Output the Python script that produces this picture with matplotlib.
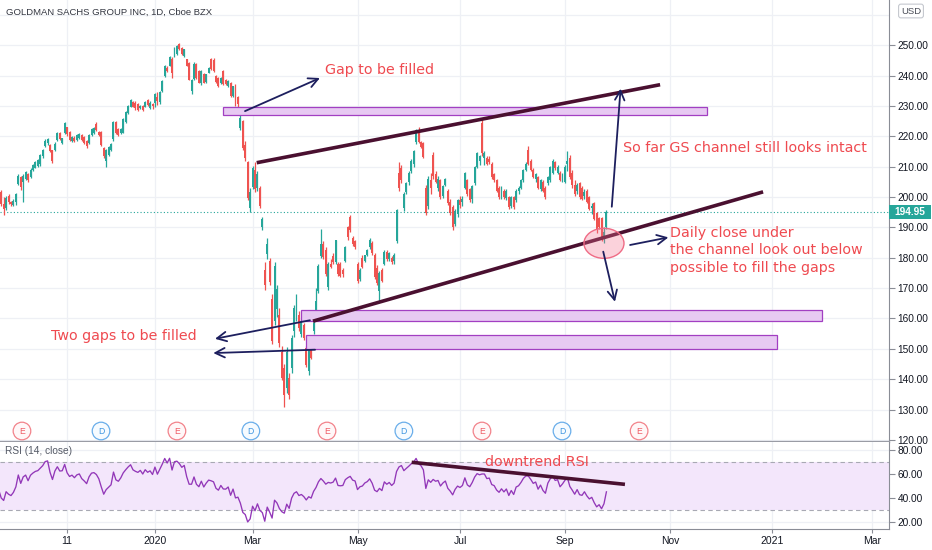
import numpy as np
import matplotlib
matplotlib.use("Agg")
import matplotlib.pyplot as plt
import matplotlib.transforms as mtransforms
from matplotlib.patches import Rectangle, Ellipse

# ---------------- data (daily bars, trading-day index; 0 = 2 Jan 2020) ----------------
first_bar = -84  # 3 Sep 2019

opens = (
    [203.0,202.5,204.5,206.8,208.0,210.0,212.9,214.5,215.2,214.6,214.7,213.0,212.4,211.2,209.0,208.5,205.9,207.0,205.5,206.3]  # Sep 19
    + [207.5,201.5,197.8,196.5,200.5,198.4,197.5,198.5,204.2,206.5,205.0,206.0,207.6,206.7,209.0,209.6,210.3,210.8,213.5,216.8,217.7,217.2,215.4]  # Oct 19
    + [215.6,218.8,221.0,217.7,221.0,223.0,221.4,218.3,219.6,218.8,219.4,220.3,219.7,218.5,217.8,220.4,221.0,224.2,221.5,221.4]  # Nov 19
    + [216.0,212.0,214.0,215.6,219.0,224.7,222.4,221.0,221.2,224.8,227.6,229.8,231.2,231.1,230.6,229.2,230.0,229.8,231.9,229.4,230.8]  # Dec 19
    + [231.0,233.0,231.2,234.8,239.9,242.6,243.2,245.5,246.5,247.0,250.3,249.2,246.5,245.4,244.3,235.0,238.8,243.8,241.5,237.5,240.4]  # Jan 20
    + [237.8,241.0,245.4,245.2,240.0,239.3,237.6,241.5,238.7,236.6,237.6,233.4,237.0,233.0,222.8,225.0,217.0,211.5,196.5]  # Feb 20
    + [203.3,209.0,203.0,203.0,190.2,176.0,181.3,179.0,166.3,159.0,163.0,161.0,149.0,143.7,137.0,140.4,143.7,155.8,160.2,161.3,155.0,158.0]  # Mar 20
    + [150.3,142.6,150.3,155.8,162.4,169.1,180.7,184.6,182.4,170.3,178.0,180.7,178.5,177.8,178.0,176.0,179.0,190.0,193.4,186.5,185.6]  # Apr 20
    + [177.8,173.0,180.0,179.0,181.0,183.5,185.0,180.8,176.7,169.0,176.0,178.0,182.0,179.5,180.0,178.8,185.6,208.0,209.5,196.5]  # May 20
    + [201.5,205.0,208.5,211.0,218.0,221.0,218.0,217.8,203.0,197.0,205.5,214.0,207.5,203.0,205.6,200.5,204.0,202.0,198.5,196.6,191.0,194.5]  # Jun 20
    + [199.0,198.5,203.0,205.6,202.5,199.5,204.5,210.0,212.0,224.5,213.0,213.0,212.5,211.0,207.5,205.5,203.0,200.0,202.0,199.8,200.0,197.0]  # Jul 20
    + [200.0,199.0,202.0,203.0,205.6,209.0,215.5,212.0,209.0,206.0,206.6,202.5,205.0,203.0,204.6,205.6,208.0,211.5,208.0,208.0,205.6]  # Aug 20
    + [205.0,211.0,213.0,208.0,204.0,202.0,204.6,203.0,200.5,202.0,200.0,196.5,198.0,194.6,193.0,193.0,186.5,190.0]  # Sep 20
)
highs = (
    [203.5,203.8,206.9,207.9,210.1,212.9,214.8,216.0,215.6,215.5,215.0,213.6,212.9,211.6,209.5,208.9,207.4,207.5,206.6,207.8]
    + [208.0,202.3,200.0,200.5,201.0,198.8,199.5,201.3,207.6,207.0,207.5,208.6,208.0,209.4,210.8,212.0,212.4,214.2,215.8,219.0,219.5,217.4,215.6]
    + [218.0,221.3,221.3,219.6,224.8,223.2,221.8,220.0,220.0,220.6,221.2,220.6,220.0,218.8,220.6,222.8,223.2,224.6,221.8,221.8]
    + [216.4,215.7,216.8,217.9,225.2,225.0,222.8,222.8,226.0,228.2,230.4,232.2,231.5,231.5,231.0,230.4,230.3,231.5,232.2,231.5,231.0]
    + [234.3,234.5,235.0,238.5,243.5,243.0,246.3,246.0,249.5,250.0,250.6,249.5,248.9,245.6,244.6,238.9,244.5,244.3,241.8,241.8,240.8]
    + [240.6,242.8,245.8,245.7,240.3,239.6,239.5,241.8,239.0,238.5,237.9,236.7,237.3,233.4,227.0,225.4,218.5,212.0,203.0]
    + [210.3,211.6,208.5,203.5,193.5,178.5,186.5,180.0,168.0,178.5,171.0,163.5,151.0,145.0,150.5,142.0,154.5,164.5,168.0,162.5,159.8,158.5]
    + [150.8,150.8,151.0,159.0,170.0,178.0,189.5,185.5,183.5,178.5,179.5,181.5,186.0,178.5,178.5,176.5,184.0,190.5,194.0,187.0,186.0]
    + [178.5,176.5,180.8,181.0,183.0,186.5,185.5,181.5,177.5,175.5,176.5,182.5,182.5,182.0,180.5,181.5,196.0,211.5,210.5,201.5]
    + [205.0,208.5,212.5,215.5,222.5,223.2,218.6,218.2,204.0,207.0,208.0,214.8,208.5,206.8,206.0,204.0,206.3,202.5,199.5,197.5,196.0,199.5]
    + [200.5,200.5,208.3,206.0,203.0,204.0,210.3,214.8,214.0,225.8,215.0,213.5,213.5,211.5,208.0,206.0,203.5,203.5,202.5,202.5,200.5,200.5]
    + [200.5,202.5,203.5,205.8,209.3,211.5,216.8,212.5,209.5,208.0,207.0,205.8,205.5,203.5,207.0,210.3,212.5,212.0,210.5,208.5,208.0]
    + [210.5,215.0,214.0,209.0,205.6,204.6,205.0,203.5,202.5,202.5,200.5,198.0,198.3,195.0,193.5,193.5,190.0,195.8]
)
lows = (
    [200.5,201.8,204.2,205.9,207.6,209.8,212.3,213.9,214.1,213.8,212.8,211.9,210.5,208.8,207.1,205.0,205.5,204.6,204.9,205.8]
    + [201.2,196.9,194.2,195.8,197.8,197.2,197.0,197.4,203.8,202.3,198.5,205.5,205.0,206.4,208.6,209.4,209.8,210.3,213.0,216.4,217.3,214.8,211.2]
    + [215.3,218.5,218.8,217.4,220.8,220.2,218.5,218.0,218.2,218.6,219.2,218.6,217.6,216.3,217.5,220.2,220.8,221.8,220.2,216.8]
    + [213.0,209.8,213.6,215.2,218.6,220.8,220.2,220.8,221.0,224.5,227.2,229.5,229.5,228.8,228.4,228.9,228.4,229.5,230.0,229.0,229.1]
    + [229.7,230.2,230.5,234.5,239.5,241.2,243.0,239.3,246.2,246.7,248.4,246.8,246.2,243.0,238.5,234.0,238.5,239.0,237.4,237.0,237.4]
    + [237.5,240.8,241.8,241.3,237.4,236.3,237.2,236.8,236.8,236.3,233.0,233.0,230.0,229.8,222.0,215.5,212.0,199.0,195.0]
    + [202.5,201.5,202.0,196.5,189.0,169.5,179.5,171.0,151.5,158.0,160.5,150.5,139.8,130.9,135.5,133.6,142.0,154.0,159.0,156.0,153.8,153.0]
    + [144.0,141.5,146.5,155.0,161.5,168.5,180.0,179.5,174.0,169.5,176.5,178.0,178.0,174.0,173.5,173.8,178.5,186.0,188.5,184.0,183.0]
    + [171.8,172.5,176.5,178.5,180.5,183.0,181.0,173.0,171.0,165.6,172.0,177.5,179.0,179.0,178.0,178.0,185.0,202.0,204.5,195.5]
    + [201.0,204.0,208.0,210.0,217.5,217.8,216.0,213.0,194.0,196.0,201.0,206.0,204.5,202.0,199.5,199.8,203.5,197.5,194.0,189.0,190.5,193.5]
    + [196.5,197.0,202.5,200.5,198.5,198.0,204.0,209.5,210.5,213.5,210.5,210.5,210.8,206.0,205.0,201.5,199.5,199.5,199.5,199.0,196.0,196.5]
    + [196.2,198.5,201.0,202.5,205.0,208.5,210.5,208.5,206.2,205.0,202.5,202.0,201.5,199.5,204.0,205.0,207.5,209.0,207.5,205.2,205.0]
    + [204.5,208.5,206.0,203.0,200.5,201.0,199.5,199.0,199.5,198.0,195.6,194.5,192.3,188.0,189.5,185.5,185.0,189.5]
)
closes = (
    [201.5,203.4,206.5,207.2,209.6,212.4,214.3,215.7,214.8,214.9,213.2,212.6,211.0,209.3,207.9,205.6,206.9,205.1,206.2,207.2]
    + [201.6,197.6,196.2,199.6,198.3,197.6,198.8,201.0,207.0,203.2,207.0,208.2,205.6,209.0,210.5,211.6,212.1,213.8,215.5,218.6,219.2,215.1,212.0]
    + [217.6,221.0,219.1,219.3,224.4,220.6,218.8,219.7,218.5,220.3,220.9,218.9,217.9,216.7,220.3,222.5,222.8,222.1,220.5,217.1]
    + [213.4,215.4,216.5,217.6,224.8,221.2,220.5,222.5,225.7,227.9,230.0,231.8,229.8,229.2,228.8,230.0,228.7,231.2,230.3,231.1,229.9]
    + [234.1,231.6,234.6,238.2,243.2,241.5,246.0,241.0,249.2,249.8,248.7,247.0,248.7,243.2,238.7,238.7,243.8,239.3,237.7,241.5,237.7]
    + [240.4,242.6,242.2,241.6,237.8,236.6,239.3,237.2,237.1,238.2,233.3,236.5,230.4,230.8,226.0,216.0,213.0,199.8,201.5]
    + [209.4,202.5,207.5,197.0,192.8,171.0,184.6,172.0,152.5,177.3,169.6,152.0,140.4,134.8,149.0,134.8,153.6,163.6,166.9,156.9,159.0,153.6]
    + [144.8,150.3,147.0,158.5,165.8,177.4,184.6,180.2,174.6,178.0,177.0,178.5,185.7,174.5,174.0,174.5,183.5,186.7,189.0,184.5,183.5]
    + [172.4,176.0,177.0,180.8,182.5,186.0,181.5,173.5,171.6,175.0,172.5,182.0,179.5,181.5,178.5,181.0,195.6,203.0,205.5,201.0]
    + [204.6,208.0,212.0,215.0,222.0,218.0,216.5,213.2,194.6,206.0,203.0,207.0,205.0,206.0,200.0,203.5,205.8,198.0,194.6,190.0,195.5,199.0]
    + [197.5,199.5,208.0,201.0,199.0,203.5,210.0,214.5,213.5,214.5,214.5,211.0,211.5,206.5,205.6,202.0,200.0,202.5,200.0,202.0,196.6,200.0]
    + [196.6,202.0,203.0,205.6,209.0,211.0,211.0,209.0,206.6,207.5,203.0,205.6,202.0,200.0,206.6,210.0,212.0,209.5,210.0,205.6,207.5]
    + [210.0,212.0,206.6,204.0,201.0,203.8,200.0,199.5,201.5,198.5,196.2,197.0,192.8,189.0,190.0,186.2,188.5,194.95]
)
last_price = 194.95

time_tick_pos = [-36, 0, 40, 83, 125, 168, 211, 253, 294]
time_tick_lbl = ["11", "2020", "Mar", "May", "Jul", "Sep", "Nov", "2021", "Mar"]
price_ticks = list(range(120, 251, 10))
grid_ticks = list(range(120, 261, 10))
rsi_ticks = [20, 40, 60, 80]

earn_pos = [-54.5, 9.0, 70.5, 134.0, 198.4]   # "E" events
div_pos = [-22.1, 39.3, 102.0, 166.8]         # "D" events

# drawings (trading-day index, price)
gap_rects = [((27.7, 226.9), (226.2, 229.6)),
             ((59.8, 159.2), (273.4, 162.8)),
             ((61.8, 150.1), (254.9, 154.5))]
channel_lines = [((41.7, 211.3), (207.0, 237.0)),
                 ((64.75, 159.1), (249.2, 201.7))]
rsi_trend = ((105.2, 70.0), (192.6, 51.5))
arrows = [((36.9, 228.3), (67.6, 239.2)),
          ((187.2, 196.8), (190.8, 235.7)),
          ((194.7, 184.2), (210.4, 186.7)),
          ((183.7, 182.0), (188.5, 165.5)),
          ((63.5, 159.4), (24.6, 153.3)),
          ((65.6, 149.7), (23.9, 148.6))]

# ---------------- helpers ----------------
def wilder_rsi(c, n=14):
    c = np.asarray(c, float)
    d = np.diff(c)
    up = np.where(d > 0, d, 0.0)
    dn = np.where(d < 0, -d, 0.0)
    out = np.full(len(c), np.nan)
    au, ad = up[:n].mean(), dn[:n].mean()
    out[n] = 100 - 100 / (1 + au / ad)
    for i in range(n, len(d)):
        au = (au * (n - 1) + up[i]) / n
        ad = (ad * (n - 1) + dn[i]) / n
        out[i + 1] = 100 - 100 / (1 + au / ad)
    return out

O = np.array(opens); H = np.array(highs); L = np.array(lows); C = np.array(closes)
X = np.arange(first_bar, first_bar + len(C))
rsi = wilder_rsi(C)

UP = "#26a69a"; DN = "#ef5350"; RED_TXT = "#ef4a50"; NAVY = "#1d1f5e"; MAROON = "#4a1030"
GRID = "#eef0f5"; AXC = "#8a8d96"; LBL = "#131722"

plt.rcParams["font.family"] = ["Liberation Sans", "DejaVu Sans"]

W, Hpx = 932, 550
fig = plt.figure(figsize=(W / 100, Hpx / 100), dpi=100)
ax = fig.add_axes([0, 1 - 441.7 / Hpx, 889 / W, 441.7 / Hpx])
axr = fig.add_axes([0, 21 / Hpx, 889 / W, 87.3 / Hpx])

xlim = (-63.5, 300.8)
for a in (ax, axr):
    a.set_xlim(*xlim)
    a.set_facecolor("white")
    a.spines["top"].set_visible(False)
    a.spines["left"].set_visible(False)
    a.spines["right"].set_color(AXC)
    a.yaxis.tick_right()
    a.set_xticks(time_tick_pos)
    a.grid(True, axis="x", color=GRID, lw=0.9, zorder=0)
    a.set_axisbelow(True)
    a.tick_params(axis="y", direction="out", length=4, width=0.8, colors=AXC,
                  labelcolor=LBL, labelsize=7.3, pad=2)

ax.set_ylim(119.4, 264.9)
for g in grid_ticks:
    ax.axhline(g, color=GRID, lw=0.9, zorder=0)
ax.set_yticks(price_ticks)
ax.set_yticklabels([f"{v:.2f}" for v in price_ticks])
ax.tick_params(axis="x", length=0, labelbottom=False)
ax.spines["bottom"].set_color("#9a9ca5")
ax.spines["bottom"].set_linewidth(1.6)

# candles
up = C >= O
for m, col in ((up, UP), (~up, DN)):
    ax.vlines(X[m], L[m], H[m], color=col, lw=0.9, zorder=3)
    body = np.maximum(np.abs(C[m] - O[m]), 0.15)
    ax.bar(X[m], body, bottom=np.minimum(O[m], C[m]), width=0.8, color=col,
           lw=0, zorder=3)

# last price line + label
ax.axhline(last_price, color=UP, lw=0.8, ls=(0, (1, 2)), zorder=2)
btr = mtransforms.blended_transform_factory(ax.transAxes, ax.transData)
ax.add_patch(Rectangle((1.0, last_price - 2.3), 42 / 889, 4.6, transform=btr, fc=UP,
                       ec="none", clip_on=False, zorder=10))
ax.text(1.0 + 21 / 889, last_price, "%.2f" % last_price, transform=btr, ha="center",
        va="center", color="white", fontsize=7.3, fontweight="bold", clip_on=False, zorder=11)

# gap rectangles
for (x0, y0), (x1, y1) in gap_rects:
    ax.add_patch(Rectangle((x0, y0), x1 - x0, y1 - y0, fc="#e7c9f2", ec="#a23fc2",
                           lw=0.9, zorder=4))

# channel lines
for (x0, y0), (x1, y1) in channel_lines:
    ax.plot([x0, x1], [y0, y1], color=MAROON, lw=2.6, solid_capstyle="butt", zorder=6)

# pink ellipse
ax.add_patch(Ellipse((184.0, 184.75), 16.4, 9.9, fc=(0.96, 0.45, 0.56, 0.32),
                     ec="#ef6b85", lw=1.0, zorder=7))

# arrows
for (x0, y0), (x1, y1) in arrows:
    ax.annotate("", xy=(x1, y1), xytext=(x0, y0),
                arrowprops=dict(arrowstyle="->", color=NAVY, lw=1.3, mutation_scale=17,
                                shrinkA=0, shrinkB=0), zorder=8)

tkw = dict(color=RED_TXT, fontsize=10.3, family=["DejaVu Sans"], zorder=9)
ax.text(69.7, 241.8, "Gap to be filled", ha="left", va="center", **tkw)
ax.text(191.8, 216.0, "So far GS channel still looks intact", ha="left", va="center", **tkw)
ax.text(211.1, 182.4, "Daily close under\nthe channel look out below\npossible to fill the gaps",
        ha="left", va="center", linespacing=1.28, **tkw)
ax.text(-42.6, 154.2, "Two gaps to be filled", ha="left", va="center", **tkw)

# E / D event markers
etr = mtransforms.blended_transform_factory(ax.transData, ax.transAxes)
for xp in earn_pos:
    ax.text(xp, 0.0242, "E", transform=etr, ha="center", va="center", fontsize=6.2,
            color="#ef5a63", zorder=9,
            bbox=dict(boxstyle="circle,pad=0.5", fc="#fff7f8", ec="#f2838b", lw=0.9))
for xp in div_pos:
    ax.text(xp, 0.0242, "D", transform=etr, ha="center", va="center", fontsize=6.2,
            color="#3d95e0", zorder=9,
            bbox=dict(boxstyle="circle,pad=0.5", fc="#f6fbff", ec="#6aaeea", lw=0.9))

# ---------------- RSI pane ----------------
axr.set_ylim(14, 87.3)
for g in rsi_ticks:
    axr.axhline(g, color=GRID, lw=0.9, zorder=0)
axr.set_yticks(rsi_ticks)
axr.set_yticklabels([f"{v:.2f}" for v in rsi_ticks])
axr.axhspan(30, 70, color="#f3e6fb", zorder=1, lw=0)
for lvl in (30, 70):
    axr.axhline(lvl, color="#a8a9b3", lw=0.8, ls=(0, (4, 3)), zorder=2)
axr.plot(X, rsi, color="#9237b8", lw=0.95, zorder=4)
axr.plot([rsi_trend[0][0], rsi_trend[1][0]], [rsi_trend[0][1], rsi_trend[1][1]],
         color=MAROON, lw=2.6, solid_capstyle="butt", zorder=6)
axr.text(135.2, 70.3, "downtrend RSI", ha="left", va="center", **tkw)
axr.text(5 / 889, 0.893, "RSI (14, close)", transform=axr.transAxes, ha="left", va="center",
         fontsize=7.3, color="#555a66")
axr.set_xticklabels(time_tick_lbl)
axr.tick_params(axis="x", length=3, width=0.8, colors=AXC, labelcolor=LBL, labelsize=7.5, pad=2)
axr.spines["bottom"].set_color(AXC)

# title and currency badge
fig.text(6 / W, 1 - 12 / Hpx, "GOLDMAN SACHS GROUP INC, 1D, Cboe BZX", ha="left", va="center",
         fontsize=6.8, color="#333640")
fig.text(911 / W, 1 - 11 / Hpx, "USD", ha="center", va="center", fontsize=6.8, color="#4a4d57",
         bbox=dict(boxstyle="round,pad=0.25", fc="white", ec="#c5c8cf", lw=0.8))

fig.savefig("out.png", dpi=100, facecolor="white")
